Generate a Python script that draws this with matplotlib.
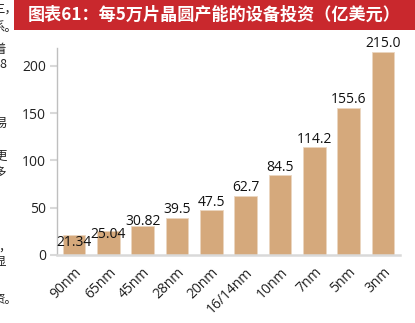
import matplotlib
matplotlib.use("Agg")
import matplotlib.pyplot as plt
from matplotlib.patches import Rectangle

categories = ["90nm", "65nm", "45nm", "28nm", "20nm", "16/14nm", "10nm", "7nm", "5nm", "3nm"]
values = [21.34, 25.04, 30.82, 39.5, 47.5, 62.7, 84.5, 114.2, 155.6, 215.0]
value_labels = ["21.34", "25.04", "30.82", "39.5", "47.5", "62.7", "84.5", "114.2", "155.6", "215.0"]
y_ticks = [0, 50, 100, 150, 200]
title = "图表61：每5万片晶圆产能的设备投资（亿美元）"

# label vertical offsets in pixels (center of text relative to bar top)
label_dy = [-8, -3, 4, 8, 8, 8, 8, 8, 8, 8]

W, H = 415, 323
fig = plt.figure(figsize=(W / 100, H / 100), dpi=100)

num_font = ["Open Sans", "DejaVu Sans"]
cjk_font = ["Noto Sans CJK SC", "DejaVu Sans"]

# title banner
fig.patches.append(Rectangle((14 / W, 1 - 30 / H), 1 - 14 / W, 30 / H,
                             transform=fig.transFigure, facecolor="#C9282D",
                             edgecolor="none", zorder=0))
fig.text((14 + W) / 2 / W, 1 - 15 / H, title, color="white", fontsize=12.3,
         fontweight="bold", family=cjk_font, ha="center", va="center")

# clipped text fragments from the neighbouring page column
frags = [(9, 17, "三，"), (27, 17, "系。"), (50, 6, "着"), (64, 6, "8"),
         (123, 7, "易"), (156, 7, "更"), (172, 6, "多"),
         (247, 11, "，"), (262, 6, "显"), (300, 17, "资。")]
for y, x, t in frags:
    fig.text(x / W, 1 - y / H, t, fontsize=9, family=cjk_font, color="#222222",
             ha="right", va="center")

ax = fig.add_axes([57 / W, 68 / H, (400 - 57) / W, (255 - 48) / H])
x = list(range(len(categories)))
ax.bar(x, values, width=0.66, color="#D5A97C", edgecolor="#EBD6C0", linewidth=0.6, zorder=2)
ax.set_xlim(-0.5, len(categories) - 0.5)
ax.set_ylim(0, 219)
ax.set_yticks(y_ticks)
ax.set_yticklabels([str(v) for v in y_ticks], family=num_font, fontsize=10, color="#222222")
ax.set_xticks(x)
ax.set_xticklabels(categories, rotation=45, ha="right", rotation_mode="anchor",
                   family=num_font, fontsize=10, color="#222222")
ax.tick_params(axis="x", length=0, pad=7)
ax.tick_params(axis="y", length=5, width=1.5, color="#D9D9D9", pad=3)

for s in ["top", "right"]:
    ax.spines[s].set_visible(False)
ax.spines["left"].set_color("#BFBFBF")
ax.spines["left"].set_linewidth(1.0)
ax.spines["bottom"].set_color("#D9D9D9")
ax.spines["bottom"].set_linewidth(1.8)

for xi, v, lab, dy in zip(x, values, value_labels, label_dy):
    ax.annotate(lab, (xi, v), xytext=(0, dy * 0.72), textcoords="offset points",
                ha="center", va="center", family=num_font, fontsize=10, color="#111111", zorder=3)

fig.savefig("out.png", dpi=100)
